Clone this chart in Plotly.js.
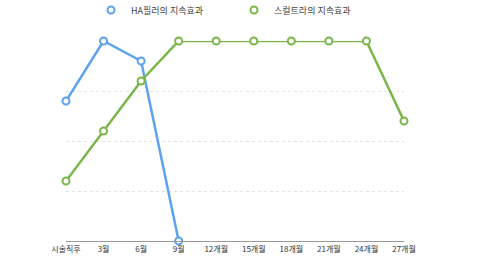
<!DOCTYPE html>
<html><head><meta charset="utf-8">
<script src="https://cdn.plot.ly/plotly-3.0.1.min.js"></script>
<style>html,body{margin:0;padding:0;background:#fff}#c{width:480px;height:270px}</style>
</head><body><div id="c"></div>
<script>
const categories = ['시술직후','3월','6월','9월','12개월','15개월','18개월','21개월','24개월','27개월'];
const haFiller = [70, 100, 90, 0];
const sculptra = [30, 55, 80, 100, 100, 100, 100, 100, 100, 60];
const yTicks = [0, 25, 50, 75, 100];
const seriesNames = ['HA필러의 지속효과', '스컬트라의 지속효과'];
const colors = ['#5DA2F0', '#7AB648'];

const font = {family: '"Noto Sans CJK KR", "Noto Sans", sans-serif', size: 8, color: '#333'};
const legendFont = {family: '"Noto Sans CJK KR", "Noto Sans", sans-serif', size: 9, color: '#444'};
const series = [
  {x: categories.slice(0, haFiller.length), y: haFiller},
  {x: categories, y: sculptra}
];
const traces = [];
series.forEach((s, i) => {
  traces.push({x: s.x, y: s.y, type: 'scatter', mode: 'lines', showlegend: false, hoverinfo: 'skip',
    line: {color: colors[i], width: 2.5}, cliponaxis: false});
});
series.forEach((s, i) => {
  traces.push({x: s.x, y: s.y, name: seriesNames[i], type: 'scatter', mode: 'markers',
    marker: {symbol: 'circle', size: 7, color: '#fff', line: {color: colors[i], width: 2}}, cliponaxis: false});
});
const layout = {
  width: 480, height: 270,
  margin: {l: 66, r: 76, t: 41, b: 29, autoexpand: false},
  paper_bgcolor: '#fff', plot_bgcolor: '#fff',
  font: font,
  showlegend: true,
  legend: {orientation: 'h', x: 0.074, xanchor: 'left', y: 1.155, yanchor: 'middle',
           entrywidth: 98, entrywidthmode: 'pixels', font: legendFont, itemwidth: 30, traceorder: 'normal'},
  xaxis: {type: 'category', categoryorder: 'array', categoryarray: categories, range: [0, categories.length - 1],
          showgrid: false, showline: true, linecolor: '#999', linewidth: 1, ticks: '', tickfont: font, zeroline: false, fixedrange: true},
  yaxis: {range: [0, 100], tickvals: yTicks, showticklabels: false, showgrid: true, gridcolor: '#e2e2e2', griddash: 'dot', gridwidth: 1,
          zeroline: false, showline: false, ticks: '', fixedrange: true}
};
Plotly.newPlot('c', traces, layout, {staticPlot: true});
</script></body></html>
